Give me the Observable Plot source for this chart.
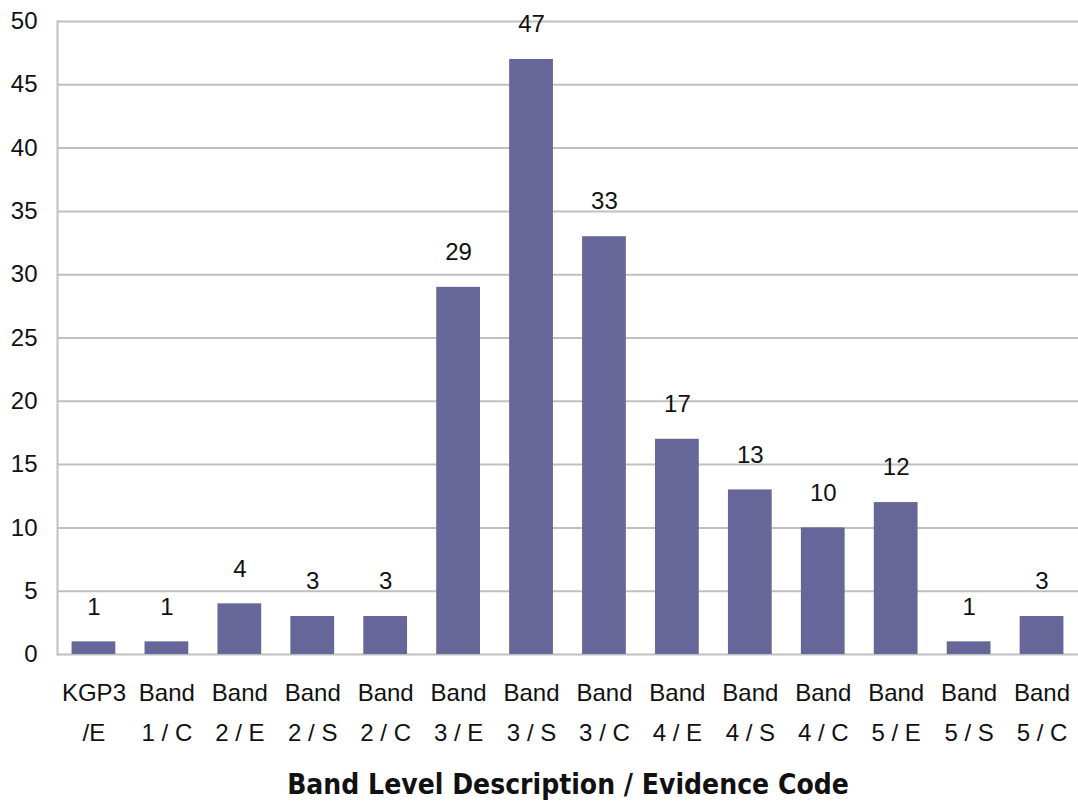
<!DOCTYPE html>
<html>
<head>
<meta charset="utf-8">
<script src="https://cdn.jsdelivr.net/npm/d3@7"></script>
<script src="https://cdn.jsdelivr.net/npm/@observablehq/plot@0.6"></script>
<style>
  html, body { margin: 0; padding: 0; background: #fff; }
  #chart svg { display: block; }
</style>
</head>
<body>
<div id="chart"></div>
<script>
// Band level / evidence code categories (two-line tick labels)
const categories = [
  "KGP3\n/E", "Band\n1 / C", "Band\n2 / E", "Band\n2 / S", "Band\n2 / C",
  "Band\n3 / E", "Band\n3 / S", "Band\n3 / C", "Band\n4 / E", "Band\n4 / S",
  "Band\n4 / C", "Band\n5 / E", "Band\n5 / S", "Band\n5 / C"
];
// Count for each category
const counts = [1, 1, 4, 3, 3, 29, 47, 33, 17, 13, 10, 12, 1, 3];
// Y axis ticks
const yTicks = [0, 5, 10, 15, 20, 25, 30, 35, 40, 45, 50];
const xTitle = "Band Level Description / Evidence Code";

const rows = categories.map((c, i) => ({category: c, count: counts[i]}));

const chart = Plot.plot({
  width: 1078,
  height: 802,
  marginLeft: 57,
  marginRight: 0,
  marginTop: 21,
  marginBottom: 148,
  style: {fontFamily: "'Liberation Sans', Arial, sans-serif", fontSize: "24px", color: "#111", background: "#fff"},
  x: {domain: categories, paddingInner: 0.4, paddingOuter: 0.2, round: false, label: null},
  y: {domain: [0, 50], label: null},
  marks: [
    Plot.gridY(yTicks, {stroke: "#c0c0c0", strokeOpacity: 1, strokeWidth: 2}),
    Plot.frame({anchor: "left", stroke: "#c0c0c0", strokeWidth: 2}),
    Plot.barY(rows, {x: "category", y: "count", fill: "#666699"}),
    Plot.text(rows, {x: "category", y: "count", text: d => String(d.count), dy: -35, lineAnchor: "middle", fontSize: 24, fill: "#111"}),
    Plot.axisY(yTicks, {tickSize: 0, tickPadding: 20, fontSize: 24, label: null}),
    Plot.axisX({tickSize: 0, tickPadding: 18, fontSize: 24, lineHeight: 1.667, label: null}),
    Plot.text([xTitle], {
      frameAnchor: "bottom", dy: 131, lineAnchor: "middle",
      fontFamily: "'DejaVu Sans Condensed', sans-serif", fontWeight: "bold", fontSize: 28, fill: "#111"
    })
  ]
});
document.getElementById("chart").appendChild(chart);
</script>
</body>
</html>
